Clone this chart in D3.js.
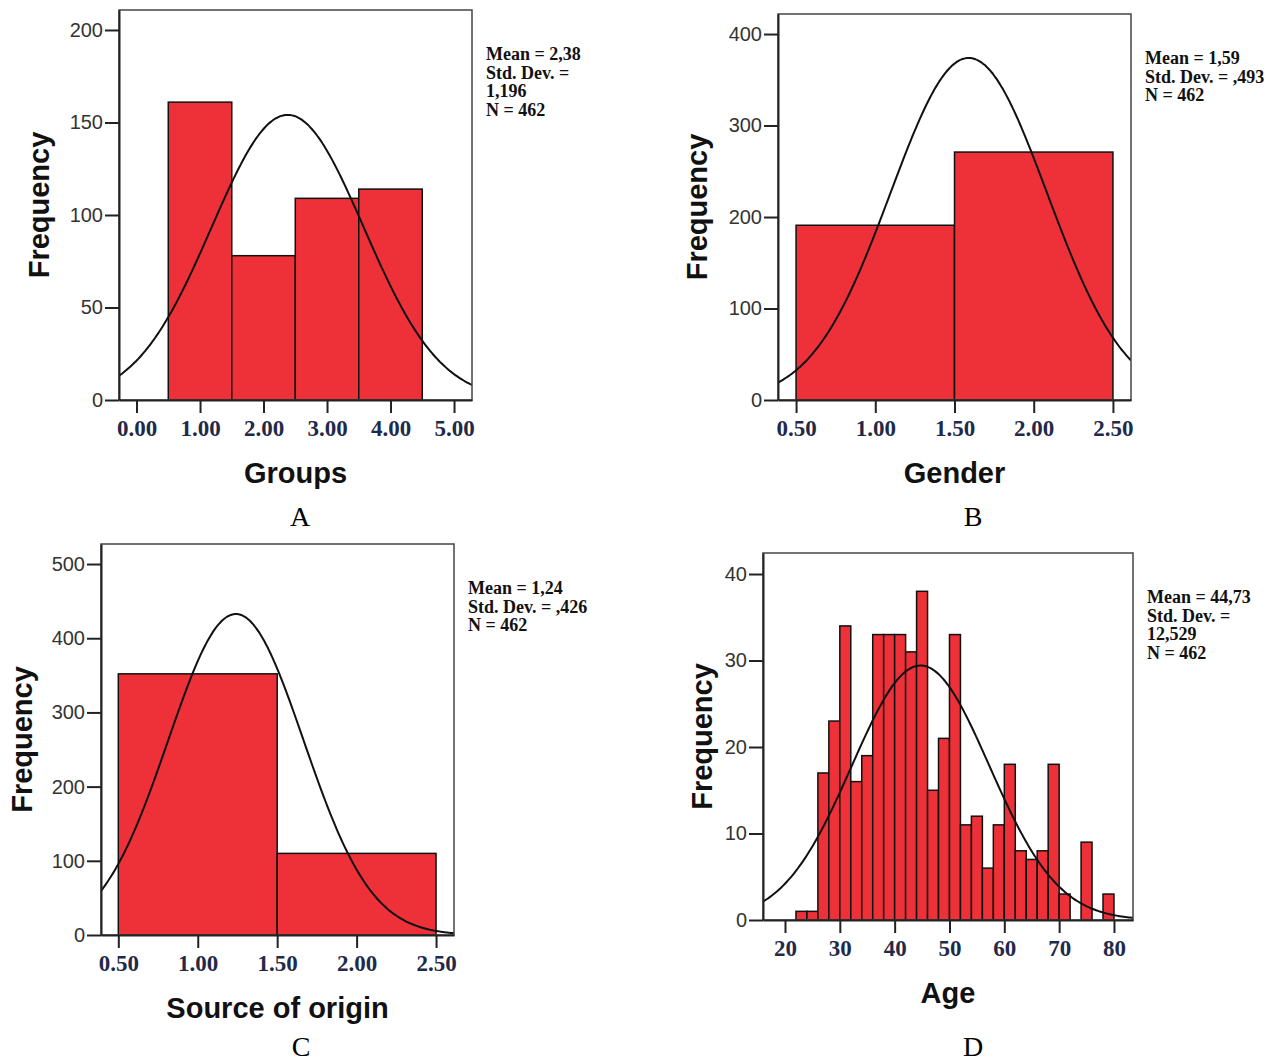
<!DOCTYPE html>
<html>
<head>
<meta charset="utf-8">
<script src="https://cdn.jsdelivr.net/npm/d3@7/dist/d3.min.js"></script>
<style>
    body { margin: 0; background: #fff; }
    .bar { fill: #ee3138; stroke: #111; stroke-width: 1.5; }
    .frame { fill: none; stroke: #444; stroke-width: 1.5; }
    .curve { fill: none; stroke: #111; stroke-width: 2; }
    .axis path, .axis line { stroke: #222; stroke-width: 2; }
    .axis.y text { font-family: "Liberation Sans", Arial, sans-serif; font-size: 20px; fill: #333; }
    .axis.x text { font-family: "Liberation Serif", serif; font-weight: bold; font-size: 23px; fill: #1f2a4a; }
    .title { font-family: "Liberation Sans", Arial, sans-serif; font-weight: bold; font-size: 29px; fill: #111; }
    .legend { font-family: "Liberation Serif", serif; font-weight: bold; font-size: 18px; fill: #111; }
    .letter { font-family: "Liberation Serif", serif; font-size: 28px; fill: #000; }
</style>
</head>
<body>
<div id="chart"></div>
<script>
// A - Groups
var groupsEdges = [0.5, 1.5, 2.5, 3.5, 4.5];
var groupsCounts = [161, 78, 109, 114];
var groupsStats = [2.38, 1.196, 462];   // mean, sd, n
var groupsXTicks = [0, 1, 2, 3, 4, 5];
var groupsYTicks = [0, 50, 100, 150, 200];
var groupsLegend = ['Mean = 2,38', 'Std. Dev. =', '1,196', 'N = 462'];

// B - Gender
var genderEdges = [0.5, 1.5, 2.5];
var genderCounts = [191, 271];
var genderStats = [1.59, 0.493, 462];
var genderXTicks = [0.5, 1, 1.5, 2, 2.5];
var genderYTicks = [0, 100, 200, 300, 400];
var genderLegend = ['Mean = 1,59', 'Std. Dev. = ,493', 'N = 462'];

// C - Source of origin
var sourceEdges = [0.5, 1.5, 2.5];
var sourceCounts = [352, 110];
var sourceStats = [1.24, 0.426, 462];
var sourceXTicks = [0.5, 1, 1.5, 2, 2.5];
var sourceYTicks = [0, 100, 200, 300, 400, 500];
var sourceLegend = ['Mean = 1,24', 'Std. Dev. = ,426', 'N = 462'];

// D - Age (bins of 2 years starting at 22)
var ageBinStart = 22, ageBinWidth = 2;
var ageCounts = [1, 1, 17, 23, 34, 16, 19, 33, 33, 33, 31, 38, 15, 21, 33,
                 11, 12, 6, 11, 18, 8, 7, 8, 18, 3, 0, 9, 0, 3];
var ageEdges = ageCounts.map(function (d, i) { return ageBinStart + i * ageBinWidth; })
    .concat([ageBinStart + ageCounts.length * ageBinWidth]);
var ageStats = [44.73, 12.529, 462];
var ageXTicks = [20, 30, 40, 50, 60, 70, 80];
var ageYTicks = [0, 10, 20, 30, 40];
var ageLegend = ['Mean = 44,73', 'Std. Dev. =', '12,529', 'N = 462'];

// reusable histogram with normal curve
var Histogram = function () {
    var left = 0, top = 0, width = 350, height = 390,
        xDomain = [0, 1], yMax = 100,
        xTicks = [], yTicks = [],
        xFormat = d3.format('.2f'),
        xTitle = 'X', yTitle = 'Frequency',
        yTitleOffset = 70,
        letter = '', letterPos = [0, 0],
        legend = [];

    var chart = function (selection) {
        selection.each(function (data) {
            var g = d3.select(this).append('g');

            var xScale = d3.scaleLinear().domain(xDomain).range([left, left + width]);
            var yScale = d3.scaleLinear().domain([0, yMax]).range([top + height, top]);

            var clipId = 'clip' + Math.round(left) + '_' + Math.round(top);
            g.append('clipPath').attr('id', clipId)
                .append('rect')
                .attr('x', left).attr('y', top)
                .attr('width', width).attr('height', height);

            // bars
            var bins = data.counts.map(function (c, i) {
                return { x0: data.edges[i], x1: data.edges[i + 1], count: c };
            }).filter(function (d) { return d.count > 0; });

            g.append('g').selectAll('rect')
                .data(bins)
                .enter().append('rect')
                .attr('class', 'bar')
                .attr('x', function (d) { return xScale(d.x0); })
                .attr('width', function (d) { return xScale(d.x1) - xScale(d.x0); })
                .attr('y', function (d) { return yScale(d.count); })
                .attr('height', function (d) { return yScale(0) - yScale(d.count); });

            // normal curve scaled to counts
            var mean = data.stats[0], sd = data.stats[1], n = data.stats[2];
            var binW = data.edges[1] - data.edges[0];
            var pts = d3.range(0, 201).map(function (i) {
                var x = xDomain[0] + (xDomain[1] - xDomain[0]) * i / 200;
                var z = (x - mean) / sd;
                return [x, n * binW * Math.exp(-0.5 * z * z) / (sd * Math.sqrt(2 * Math.PI))];
            });
            var line = d3.line()
                .x(function (d) { return xScale(d[0]); })
                .y(function (d) { return yScale(d[1]); })
                .curve(d3.curveBasis);
            g.append('path')
                .attr('class', 'curve')
                .attr('clip-path', 'url(#' + clipId + ')')
                .attr('d', line(pts));

            // frame
            g.append('rect')
                .attr('class', 'frame')
                .attr('x', left).attr('y', top)
                .attr('width', width).attr('height', height);

            // axes
            var xAxis = d3.axisBottom(xScale).tickValues(xTicks).tickFormat(xFormat)
                .tickSizeInner(13).tickSizeOuter(0).tickPadding(7);
            var yAxis = d3.axisLeft(yScale).tickValues(yTicks).tickFormat(d3.format('d'))
                .tickSizeInner(14).tickSizeOuter(0).tickPadding(2);

            g.append('g')
                .attr('class', 'axis x')
                .attr('transform', 'translate(0,' + (top + height) + ')')
                .call(xAxis);
            g.append('g')
                .attr('class', 'axis y')
                .attr('transform', 'translate(' + left + ',0)')
                .call(yAxis);

            // titles
            g.append('text')
                .attr('class', 'title')
                .attr('text-anchor', 'middle')
                .attr('x', left + width / 2)
                .attr('y', top + height + 83)
                .text(xTitle);
            g.append('text')
                .attr('class', 'title')
                .attr('text-anchor', 'middle')
                .attr('transform', 'translate(' + (left - yTitleOffset) + ',' + (top + height / 2) + ') rotate(-90)')
                .text(yTitle);

            // stats box
            g.append('g').selectAll('text')
                .data(legend)
                .enter().append('text')
                .attr('class', 'legend')
                .attr('x', left + width + 14)
                .attr('y', function (d, i) { return top + 50 + i * 18.5; })
                .text(function (d) { return d; });

            // panel letter
            g.append('text')
                .attr('class', 'letter')
                .attr('text-anchor', 'middle')
                .attr('x', letterPos[0])
                .attr('y', letterPos[1])
                .text(letter);
        });
    };

    chart.frame = function (l, t, w, h) {
        left = l; top = t; width = w; height = h;
        return chart;
    };
    chart.xDomain = function (value) { xDomain = value; return chart; };
    chart.yMax = function (value) { yMax = value; return chart; };
    chart.xTicks = function (value) { xTicks = value; return chart; };
    chart.yTicks = function (value) { yTicks = value; return chart; };
    chart.xFormat = function (value) { xFormat = value; return chart; };
    chart.xTitle = function (value) { xTitle = value; return chart; };
    chart.yTitleOffset = function (value) { yTitleOffset = value; return chart; };
    chart.letter = function (value, pos) { letter = value; letterPos = pos; return chart; };
    chart.legend = function (value) { legend = value; return chart; };

    return chart;
};

var svg = d3.select('#chart').append('svg')
    .attr('width', 1280)
    .attr('height', 1061);

var chartA = Histogram().frame(119, 10, 353, 390)
    .xDomain([-0.276, 5.283]).yMax(210.8)
    .xTicks(groupsXTicks).yTicks(groupsYTicks)
    .xTitle('Groups').yTitleOffset(70)
    .letter('A', [300, 526]).legend(groupsLegend);
svg.append('g').datum({ edges: groupsEdges, counts: groupsCounts, stats: groupsStats }).call(chartA);

var chartB = Histogram().frame(778, 14, 353, 386)
    .xDomain([0.386, 2.614]).yMax(421.9)
    .xTicks(genderXTicks).yTicks(genderYTicks)
    .xTitle('Gender').yTitleOffset(71)
    .letter('B', [973, 526]).legend(genderLegend);
svg.append('g').datum({ edges: genderEdges, counts: genderCounts, stats: genderStats }).call(chartB);

var chartC = Histogram().frame(101, 544, 353, 391)
    .xDomain([0.391, 2.613]).yMax(527)
    .xTicks(sourceXTicks).yTicks(sourceYTicks)
    .xTitle('Source of origin').yTitleOffset(69)
    .letter('C', [301, 1056]).legend(sourceLegend);
svg.append('g').datum({ edges: sourceEdges, counts: sourceCounts, stats: sourceStats }).call(chartC);

var chartD = Histogram().frame(763, 553, 370, 367)
    .xDomain([15.99, 83.47]).yMax(42.43)
    .xTicks(ageXTicks).yTicks(ageYTicks).xFormat(d3.format('d'))
    .xTitle('Age').yTitleOffset(51)
    .letter('D', [973, 1056]).legend(ageLegend);
svg.append('g').datum({ edges: ageEdges, counts: ageCounts, stats: ageStats }).call(chartD);
</script>
</body>
</html>
